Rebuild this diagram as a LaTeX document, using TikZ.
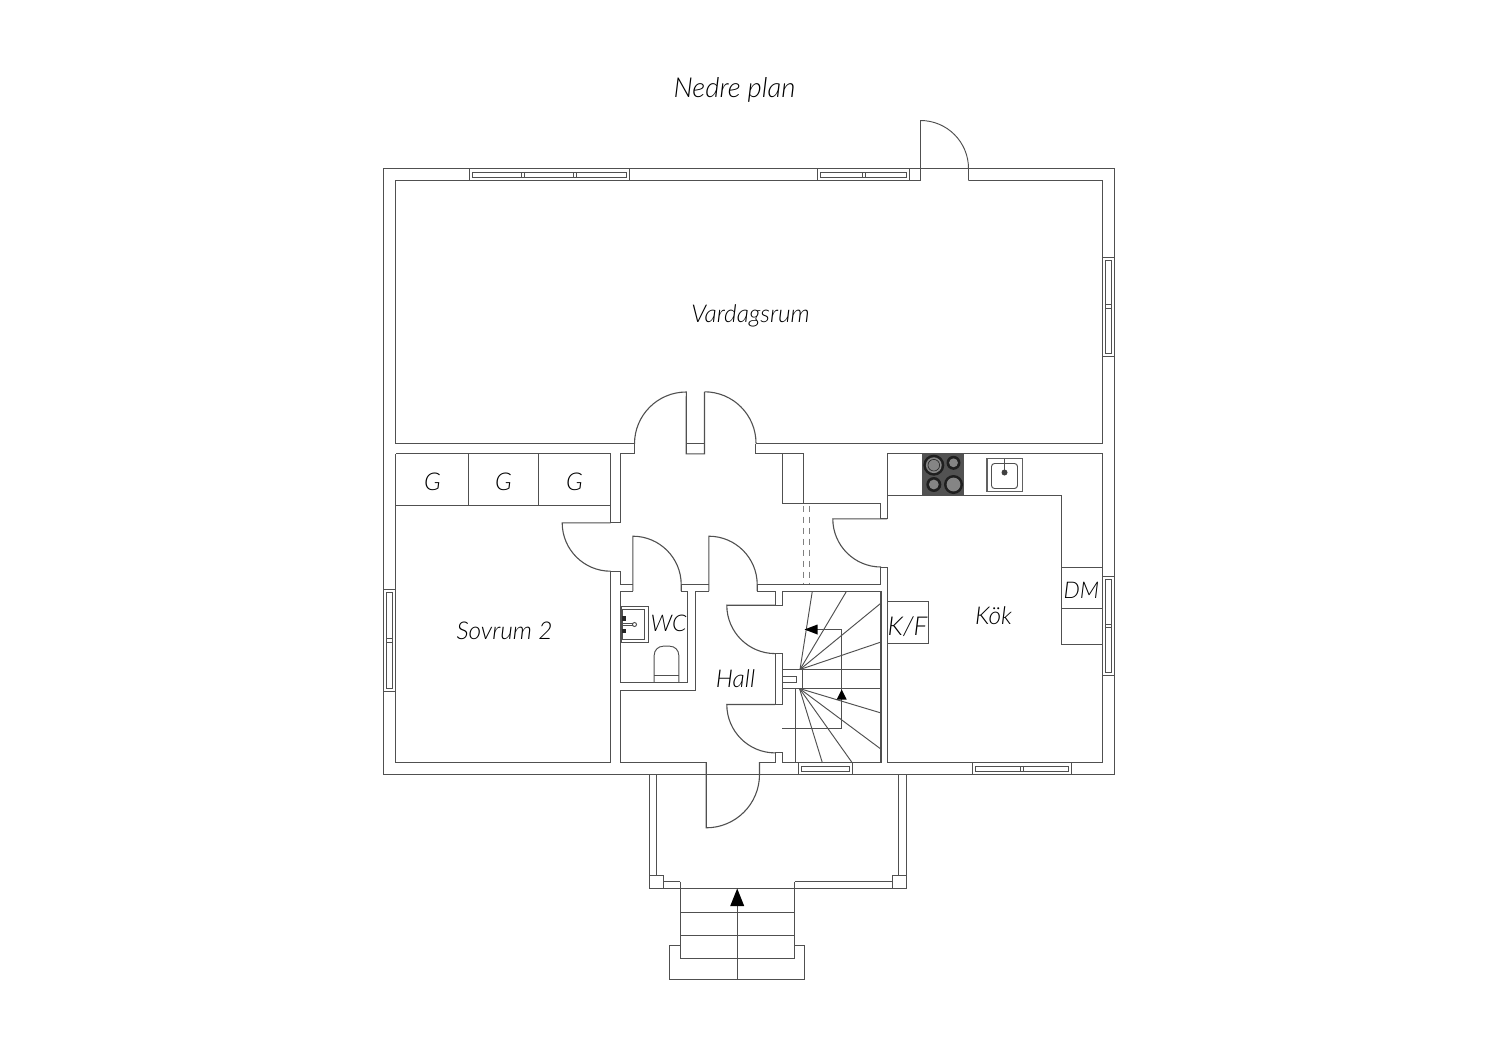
\documentclass[tikz,border=0pt]{standalone}
\usepackage{fontspec}
\setmainfont{Lato}[ItalicFont={Lato Light Italic}]
\definecolor{wallcol}{HTML}{505050}
\definecolor{textcol}{HTML}{000000}
\tikzset{
    wall/.style={draw=wallcol, line width=1.1pt},
    thin wall/.style={draw=wallcol, line width=0.95pt},
    roomlabel/.style={font=\fontsize{24.5}{26}\selectfont\itshape, text=textcol, inner sep=0pt},
    smalllabel/.style={font=\fontsize{23}{26}\selectfont\itshape, text=textcol, inner sep=0pt}
}

\begin{document}
\begin{tikzpicture}[x=1pt, y=-1pt]
    \useasboundingbox (0,0) rectangle (1500,1060);

    \begin{scope}[shift={(-0.5,-0.5)}]
    % Title
    \node[roomlabel, font=\fontsize{27.5}{30}\selectfont\itshape] (title) at (735, 90.5) {Nedre plan};

    % Outer walls
    \draw[wall] (384,169) rectangle (1115,775);
    \draw[wall] (396,444.3) -- (396,181) -- (921,181);
    \draw[wall] (969,181) -- (1103,181) -- (1103,444.3) -- (756,444.3);
    \draw[wall] (635,444.3) -- (396,444.3);
    \draw[wall] (396,454.4) -- (396,763) -- (611,763) -- (611,571.7) -- (620.7,571.7) -- (620.7,585) -- (633.3,585);
    \draw[wall] (611,523.3) -- (611,454.4) -- (396,454.4);
    \draw[wall] (611,523.3) -- (620.7,523.3) -- (620.7,454.4) -- (635,454.4) -- (635,444.3);

    % Entrance door to the terrace side
    \draw[thin wall] (969,181) -- (969,169) arc[start angle=0, end angle=90, radius=48pt] -- (921,181);

    % Double doors to the living room
    \draw[wall] (635,444.3) arc[start angle=180, end angle=90, radius=51.8pt] -- (686.7,454.4) -- (705,454.4) -- (705,392.3);
    \draw[wall] (705,392.3) arc[start angle=90, end angle=0, radius=51.5pt];
    \draw[wall] (686.7,444.3) -- (705,444.3);
    \draw[wall] (756,444.3) -- (756,454.4) -- (783.3,454.4) -- (783.3,504) -- (881,504) -- (881,519.3) -- (887.7,519.3);
    \draw[wall] (783.3,454.4) -- (804.3,454.4) -- (804.3,504);

    % Passage
    \draw[thin wall, dashed, dash pattern=on 6pt off 5pt, draw=gray] (803.7,506) -- (803.7,585);
    \draw[thin wall, dashed, dash pattern=on 6pt off 5pt, draw=gray] (809.7,506) -- (809.7,585);

    % Wardrobes
    \draw[thin wall] (396,506) -- (611,506);
    \draw[thin wall] (468.7,454.4) -- (468.7,506);
    \draw[thin wall] (539.3,454.4) -- (539.3,506);
    \node[roomlabel] (wardrobea) at (433, 482) {G};
    \node[roomlabel] (wardrobeb) at (504, 482) {G};
    \node[roomlabel] (wardrobec) at (575, 482) {G};

    % Door swings
    \draw[wall] (611,523.3) -- (562.7,523.3) arc[start angle=180, end angle=270, radius=48.4pt];
    \draw[wall] (633.3,591.7) -- (633.3,536.7) arc[start angle=90, end angle=0, radius=48.4pt] -- (681.7,591.7);
    \draw[wall] (709.3,591.7) -- (709.3,536.7) arc[start angle=90, end angle=0, radius=48.4pt] -- (757.7,591.7);
    \draw[wall] (775.7,605.7) -- (727.3,605.7) arc[start angle=180, end angle=270, radius=48.4pt];
    \draw[wall] (775.7,705) -- (727.3,705) arc[start angle=180, end angle=270, radius=48.4pt];
    \draw[wall] (887.7,519.3) -- (833.3,519.3) arc[start angle=180, end angle=270, radius=48.2pt];
    \draw[wall] (760,762.7) -- (760,775) arc[start angle=0, end angle=-90, radius=53.3pt] -- (706.7,762.7);

    % Inner walls, WC and hall
    \draw[wall] (681.7,585) -- (709.3,585);
    \draw[wall] (757.7,585) -- (881,585) -- (881,567.7) -- (887.7,567.7);
    \draw[wall] (621,591.7) -- (633.3,591.7);
    \draw[wall] (621,591.7) -- (621,683.3) -- (688.3,683.3) -- (688.3,591.7) -- (681.7,591.7);
    \draw[wall] (709.3,591.7) -- (696,591.7) -- (696,690.7) -- (621,690.7) -- (621,763) -- (706.7,763);
    \draw[wall] (757.7,591.7) -- (775.7,591.7) -- (775.7,605.7) -- (782.7,605.7) -- (782.7,592.3) -- (881.5,592.3) -- (881.5,762.7) -- (782.7,762.7);
    \draw[wall] (775.7,654.3) -- (782.7,654.3) -- (782.7,705) -- (775.7,705) -- cycle;
    \draw[wall] (775.7,753.3) -- (782.7,753.3) -- (782.7,762.7);
    \draw[wall] (775.7,753.3) -- (775.7,762.7) -- (760,762.7);

    % Kitchen
    \draw[wall] (887.7,519.3) -- (887.7,454.4) -- (1103,454.4) -- (1103,763) -- (888,763) -- (888,567.7);
    \draw[thin wall] (888,495.7) -- (1061.7,495.7) -- (1061.7,645) -- (1103,645);
    \draw[thin wall] (1061.7,567.7) -- (1103,567.7);
    \draw[thin wall] (1061.7,609.3) -- (1103,609.3);
    \draw[thin wall] (888,602.3) -- (929.3,602.3) -- (929.3,644) -- (888,644);

    % Hob
    \fill[black!68] (922.3,454.4) rectangle (964,495.7);
    \foreach \xc/\yc/\rad in {934.3/465.7/10.5, 954/463.3/7, 934.3/485/7.5, 954/485/9.5} {
        \fill[black!88] (\xc,\yc) circle[radius=\rad pt];
        \fill[black!48] (\xc,\yc) circle[radius=\rad pt - 2.6pt];
    }
    \draw[black!85, line width=0.6pt] (934.3,465.7) circle[radius=5.8pt];

    % Kitchen sink
    \draw[draw=black!62, line width=1.9pt] (987.5,459) rectangle (1023,492);
    \draw[thin wall, rounded corners=3pt] (992,464) rectangle (1018,489);
    \draw[wallcol, line width=1.4pt] (1005,459) -- (1005,473);
    \fill[black!75] (1005,473) circle[radius=3pt];

    % WC fittings
    \draw[thin wall] (622,606.7) rectangle (649,643);
    \draw[thin wall] (623,610) rectangle (645,640);
    \fill[black!85] (622,616.5) rectangle (626,621);
    \fill[black!85] (622,629) rectangle (626,633.5);
    \draw[thin wall] (622,624.3) -- (633,624.3);
    \draw[thin wall] (622,626) -- (633,626);
    \draw[thin wall] (635,625) circle[radius=2pt];
    \draw[thin wall, rounded corners=9pt] (654.7,683.3) -- (654.7,646.7) -- (679.3,646.7) -- (679.3,683.3);
    \draw[thin wall] (654.7,676) -- (679.3,676);

    % Stairs
    \draw[thin wall] (782.7,670) -- (881,670);
    \draw[thin wall] (782.7,688.7) -- (881,688.7);
    \draw[thin wall] (782.7,676.7) rectangle (797.3,683.3);
    \draw[thin wall] (803.3,670) -- (803.3,688.7);
    \draw[thin wall] (796,688.7) -- (796,762.7);
    \draw[thin wall] (782.7,729.3) -- (842.3,729.3) -- (842.3,630) -- (812,630);
    \foreach \xe/\ye in {812.7/592.3, 846.7/592.3, 881/604, 881/642.7} {
        \draw[thin wall] (800.5,670) -- (\xe,\ye);
    }
    \foreach \xe/\ye in {881/713.3, 881/749.3, 852.3/762.7, 822.7/762.7} {
        \draw[thin wall] (800,689) -- (\xe,\ye);
    }
    \fill[black] (805,630) -- (818,625) -- (818,635) -- cycle;
    \fill[black] (842.2,690) -- (837.2,700) -- (847.2,700) -- cycle;

    % Windows along the long walls
    \foreach \xa/\xb/\ya/\mids in {469.5/630/169/{523.3,575}, 818.3/910/169/{864.2}, 973.3/1071.7/763/{1022}} {
        \draw[thin wall] (\xa,\ya) rectangle (\xb,\ya+12);
        \draw[thin wall, line width=0.7pt] (\xa+3,\ya+3.5) rectangle (\xb-3,\ya+9);
        \foreach \m in \mids {
            \draw[thin wall, line width=0.7pt] (\m-1.6,\ya+3.5) -- (\m-1.6,\ya+9);
            \draw[thin wall, line width=0.7pt] (\m+1.6,\ya+3.5) -- (\m+1.6,\ya+9);
        }
    }
    \draw[thin wall] (799.3,763) rectangle (852.7,775);
    \draw[thin wall, line width=0.7pt] (802,766.5) rectangle (850,772);

    % Windows along the side walls
    \foreach \xa/\ya/\yb/\m in {1103/258.3/356.7/306.9, 1103/576.7/676/626.7, 384/590/692.3/640.8} {
        \draw[thin wall] (\xa,\ya) rectangle (\xa+12,\yb);
        \draw[thin wall, line width=0.7pt] (\xa+3,\ya+3) rectangle (\xa+9,\yb-3);
        \draw[thin wall, line width=0.7pt] (\xa+3,\m-1.6) -- (\xa+9,\m-1.6);
        \draw[thin wall, line width=0.7pt] (\xa+3,\m+1.6) -- (\xa+9,\m+1.6);
    }

    % Terrace
    \draw[thin wall] (650,775) -- (650,889) -- (907,889) -- (907,775);
    \draw[thin wall] (657.3,775) -- (657.3,875.7);
    \draw[thin wall] (899.3,775) -- (899.3,875.7);
    \draw[thin wall] (650,875.7) -- (663.7,875.7) -- (663.7,889);
    \draw[thin wall] (907,875.7) -- (893.3,875.7) -- (893.3,889);
    \draw[thin wall] (663.7,882) -- (680.7,882);
    \draw[thin wall] (795,882) -- (893.3,882);

    % Entrance steps
    \draw[thin wall] (680.7,882) -- (680.7,959.3) -- (795,959.3) -- (795,882);
    \draw[thin wall] (680.7,912.7) -- (795,912.7);
    \draw[thin wall] (680.7,936) -- (795,936);
    \draw[thin wall] (680.7,945.7) -- (670,945.7) -- (670,980) -- (805.3,980) -- (805.3,945.7) -- (795,945.7);
    \draw[thin wall] (737.7,980) -- (737.7,900);
    \fill[black] (737.7,889) -- (730.7,906.5) -- (744.7,906.5) -- cycle;

    % Room labels
    \node[roomlabel] (vardagsrum) at (751, 316.5) {Vardagsrum};
    \node[roomlabel] (sovrum) at (505, 631.5) {Sovrum 2};
    \node[smalllabel] (wc) at (669, 624) {WC};
    \node[roomlabel] (hall) at (736, 679) {Hall};
    \node[roomlabel] (kok) at (994, 616) {Kök};
    \node[smalllabel, font=\fontsize{26}{28}\selectfont\itshape] (kf) at (908, 627) {K/F};
    \node[smalllabel] (dm) at (1082, 591) {DM};
    \end{scope}
\end{tikzpicture}
\end{document}
